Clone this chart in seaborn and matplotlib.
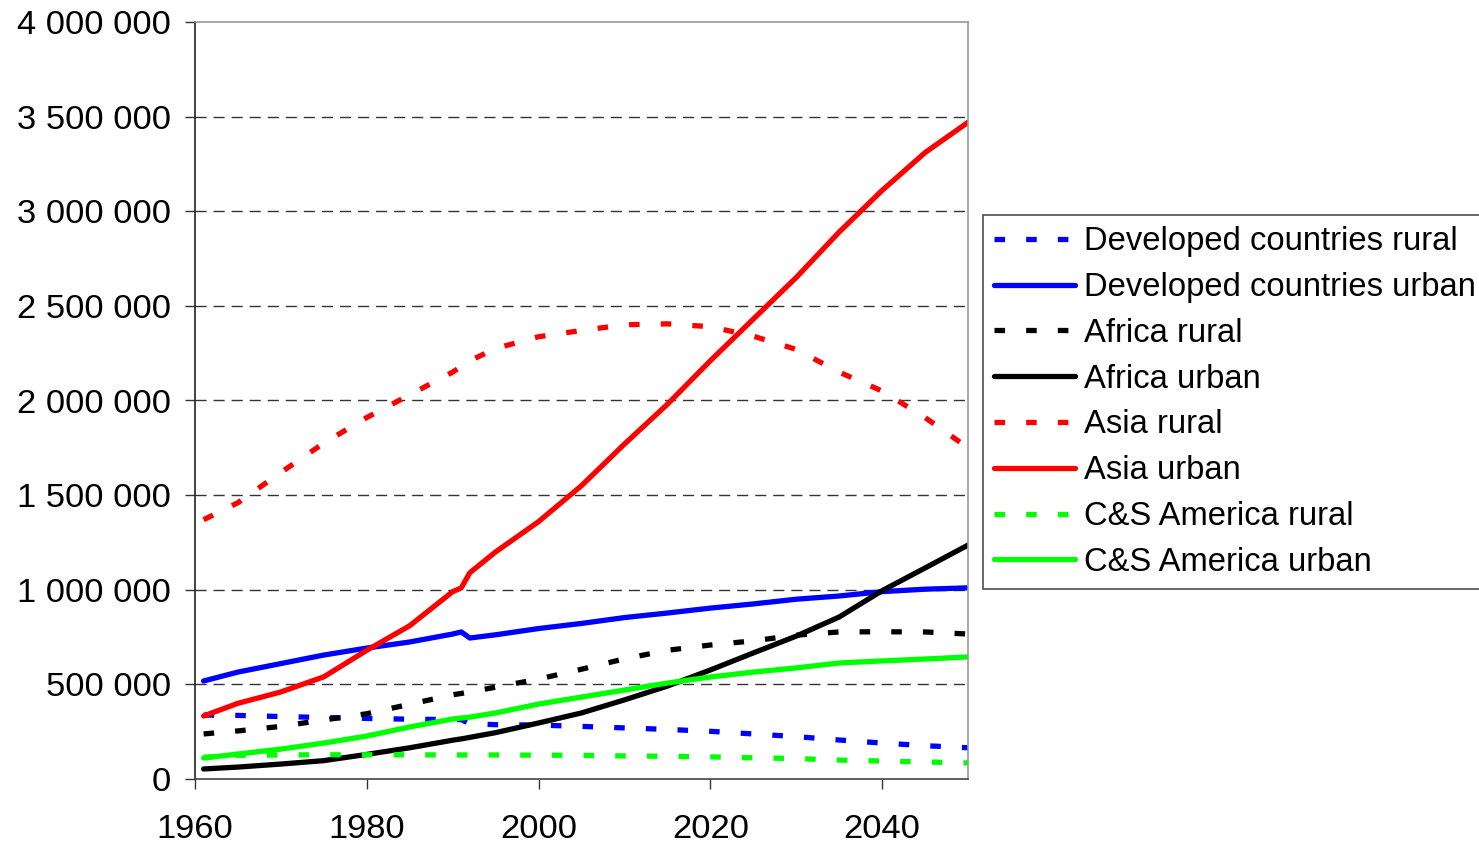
import seaborn as sns
import pandas as pd
import matplotlib.pyplot as plt
from matplotlib.ticker import FuncFormatter

# population (thousands)
years = [1961, 1965, 1970, 1975, 1980, 1985, 1990, 1991, 1992, 1995, 2000,
         2005, 2010, 2015, 2020, 2025, 2030, 2035, 2040, 2045, 2050]

dev_rural = [338, 336, 330, 325, 320, 316, 314, 314, 292, 287, 285,
             278, 270, 262, 252, 238, 224, 206, 190, 176, 165]
dev_urban = [518, 565, 610, 655, 692, 724, 766, 777, 745, 762, 795,
             822, 853, 877, 903, 925, 950, 967, 990, 1003, 1010]
afr_rural = [238, 254, 278, 312, 345, 395, 445, 452, 460, 485, 528,
             580, 635, 680, 708, 730, 760, 777, 778, 777, 766]
afr_urban = [53, 63, 79, 97, 130, 165, 205, 212, 220, 245, 296,
             349, 418, 491, 576, 666, 755, 856, 995, 1115, 1236]
asia_rural = [1370, 1460, 1620, 1775, 1910, 2030, 2150, 2180, 2210, 2275, 2337,
              2370, 2400, 2405, 2390, 2340, 2270, 2150, 2050, 1910, 1750]
asia_urban = [333, 400, 460, 540, 680, 810, 990, 1010, 1090, 1200, 1360,
              1550, 1770, 1980, 2210, 2430, 2650, 2890, 3110, 3310, 3470]
cs_rural = [115, 125, 127, 128, 128, 128, 127, 127, 127, 127, 126,
            125, 122, 120, 117, 112, 108, 100, 95, 90, 85]
cs_urban = [111, 132, 158, 190, 227, 275, 317, 322, 327, 349, 396,
            433, 470, 507, 539, 565, 587, 613, 624, 634, 645]

labels = ['Developed countries rural', 'Developed countries urban',
          'Africa rural', 'Africa urban', 'Asia rural', 'Asia urban',
          'C&S America rural', 'C&S America urban']
series = [dev_rural, dev_urban, afr_rural, afr_urban,
          asia_rural, asia_urban, cs_rural, cs_urban]
colors = ['#0000ff', '#0000ff', '#000000', '#000000',
          '#ff0000', '#ff0000', '#00ff00', '#00ff00']

sns.set_theme(style='white')
plt.rcParams['font.family'] = ['Liberation Sans', 'DejaVu Sans']
plt.rcParams['text.color'] = 'black'
plt.rcParams['xtick.color'] = 'black'
plt.rcParams['ytick.color'] = 'black'

fig = plt.figure(figsize=(14.79, 8.46), dpi=100)
ax = fig.add_axes([195 / 1479, 1 - 779 / 846, (968 - 195) / 1479, (779 - 22) / 846])

for name, vals, col in zip(labels, series, colors):
    df = pd.DataFrame({'year': years, 'pop': [v * 1000 for v in vals]})
    sns.lineplot(data=df, x='year', y='pop', ax=ax, color=col,
                 linewidth=3.8, label=name)
    if name.endswith('rural'):
        ax.lines[-1].set_dashes((2, 4))
        ax.lines[-1].set_dash_capstyle('butt')

ax.set_xlim(1960, 2050)
ax.set_ylim(0, 4000000)
ax.set_xticks([1960, 1980, 2000, 2020, 2040])
ax.set_yticks(range(0, 4000001, 500000))
ax.yaxis.set_major_formatter(FuncFormatter(lambda v, p: f'{v:,.0f}'.replace(',', ' ')))
ax.set_xlabel('')
ax.set_ylabel('')

for y in range(500000, 4000000, 500000):
    ax.axhline(y, color='#333333', linewidth=1, linestyle=(0, (8, 5)), zorder=0)

ax.tick_params(axis='both', labelsize=24.8, direction='out', length=7, width=1,
               color='#333333', labelcolor='black', bottom=True, left=True)
ax.tick_params(axis='y', pad=10.5)
ax.tick_params(axis='x', pad=18)

ax.spines['left'].set_color('#222222')
ax.spines['bottom'].set_color('#444444')
ax.spines['top'].set_color('#999999')
ax.spines['right'].set_color('#999999')
for s in ax.spines.values():
    s.set_linewidth(1.2)

leg = ax.legend(loc='upper left', bbox_to_anchor=(983 / 1479, 1 - 215 / 846),
                bbox_transform=fig.transFigure, fontsize=23.6, frameon=True,
                fancybox=False, edgecolor='#222222', borderaxespad=0,
                borderpad=0.35, labelspacing=0.45, handlelength=2.45,
                handletextpad=0.28)
leg.get_frame().set_linewidth(1.2)
for t in leg.get_texts():
    t.set_color('black')

plt.savefig('out.png', dpi=100)
plt.close()
